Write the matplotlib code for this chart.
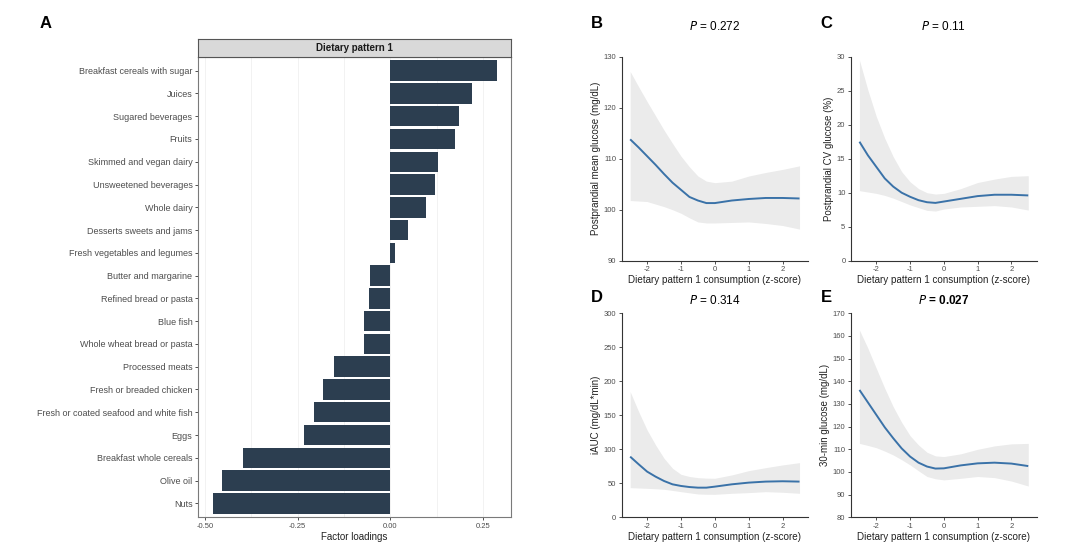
import matplotlib
matplotlib.use("Agg")
import matplotlib.pyplot as plt
import numpy as np

plt.rcParams['font.family'] = ['Liberation Sans', 'DejaVu Sans']
plt.rcParams['axes.unicode_minus'] = False

# ---------------- Data ----------------
foods = ["Breakfast cereals with sugar", "Juices", "Sugared beverages", "Fruits",
         "Skimmed and vegan dairy", "Unsweetened beverages", "Whole dairy",
         "Desserts sweets and jams", "Fresh vegetables and legumes",
         "Butter and margarine", "Refined bread or pasta", "Blue fish",
         "Whole wheat bread or pasta", "Processed meats", "Fresh or breaded chicken",
         "Fresh or coated seafood and white fish", "Eggs", "Breakfast whole cereals",
         "Olive oil", "Nuts"]
loadings = [0.288, 0.220, 0.185, 0.175, 0.127, 0.121, 0.095, 0.046, 0.011,
            -0.056, -0.059, -0.071, -0.072, -0.152, -0.182, -0.205, -0.234,
            -0.397, -0.454, -0.479]

z = [-2.5, -2.25, -2.0, -1.75, -1.5, -1.25, -1.0, -0.75, -0.5, -0.25,
     0.0, 0.5, 1.0, 1.5, 2.0, 2.5]

mean_fit = [113.8, 112.2, 110.5, 108.8, 107.0, 105.3, 103.9, 102.5, 101.8, 101.3,
            101.3, 101.8, 102.1, 102.3, 102.3, 102.2]
mean_lo  = [101.8, 101.7, 101.6, 101.1, 100.6, 100.0, 99.3, 98.4, 97.6, 97.4,
            97.4, 97.5, 97.6, 97.3, 96.9, 96.2]
mean_hi  = [127.1, 124.1, 121.2, 118.4, 115.6, 113.0, 110.5, 108.4, 106.6, 105.6,
            105.3, 105.6, 106.6, 107.3, 107.9, 108.6]

cv_fit = [17.5, 15.5, 13.8, 12.1, 10.9, 10.0, 9.4, 8.9, 8.6, 8.5,
          8.7, 9.1, 9.5, 9.7, 9.7, 9.6]
cv_lo  = [10.3, 10.1, 9.9, 9.6, 9.2, 8.7, 8.2, 7.8, 7.4, 7.3,
          7.6, 7.9, 8.0, 8.1, 7.9, 7.45]
cv_hi  = [29.5, 25.1, 21.2, 18.0, 15.3, 13.1, 11.6, 10.6, 10.0, 9.8,
          9.9, 10.6, 11.5, 12.0, 12.4, 12.5]

iauc_fit = [89.2, 78.0, 67.2, 59.8, 53.4, 48.5, 46.1, 44.5, 43.6, 43.6,
            45.1, 48.5, 51.0, 52.5, 53.0, 52.5]
iauc_lo  = [43.6, 43.1, 42.6, 42.0, 41.2, 39.5, 37.7, 36.0, 34.3, 33.9,
            33.8, 35.3, 36.3, 37.7, 36.8, 35.3]
iauc_hi  = [184.8, 155.4, 128.4, 106.4, 86.8, 72.1, 63.2, 60.0, 58.3, 57.6,
            57.4, 62.3, 68.6, 73.0, 77.0, 80.4]

g30_fit = [136.2, 130.7, 125.2, 119.7, 114.9, 110.4, 106.8, 104.1, 102.4, 101.5,
           101.6, 102.9, 103.8, 104.1, 103.7, 102.6]
g30_lo  = [112.6, 111.7, 110.7, 109.2, 107.5, 105.4, 103.1, 100.5, 98.0, 97.0,
           96.5, 97.2, 98.0, 97.5, 96.0, 93.8]
g30_hi  = [162.6, 154.6, 145.7, 136.9, 128.8, 121.9, 116.0, 111.9, 108.7, 107.1,
           106.8, 108.0, 110.0, 111.5, 112.4, 112.6]

W, H = 1080, 548
fig = plt.figure(figsize=(W / 100, H / 100), dpi=100)

def rect(l, t, r, b):
    return [l / W, (H - b) / H, (r - l) / W, (b - t) / H]

tick_col = '#4d4d4d'

# ---------------- Panel A ----------------
axA = fig.add_axes(rect(198, 57, 511, 517))
ypos = np.arange(1, len(foods) + 1)
axA.barh(ypos, loadings, height=0.9, color='#2c3e50', edgecolor='none', zorder=3)
axA.set_ylim(len(foods) + 0.6, 0.4)
axA.set_xlim(-0.519, 0.325)
axA.set_yticks(ypos)
axA.set_yticklabels(foods, fontsize=6.5, color=tick_col)
axA.set_xticks([-0.5, -0.25, 0, 0.25])
axA.set_xticklabels(['-0.50', '-0.25', '0.00', '0.25'], fontsize=5.5, color=tick_col)
for v in [-0.5, -0.375, -0.25, -0.125, 0, 0.125, 0.25]:
    axA.axvline(v, color='#f0f0f0', lw=0.6, zorder=1)
axA.tick_params(axis='both', length=2.5, width=0.6, color='#333333', pad=1.5)
for s in axA.spines.values():
    s.set_color('#7a7a7a')
    s.set_linewidth(0.8)
axA.set_xlabel('Factor loadings', fontsize=7, color='#222222', labelpad=2)

axS = fig.add_axes(rect(198, 39, 511, 57))
axS.set_facecolor('#d9d9d9')
axS.set_xticks([]); axS.set_yticks([])
for s in axS.spines.values():
    s.set_color('#555555')
    s.set_linewidth(0.8)
axS.text(0.5, 0.5, 'Dietary pattern 1', transform=axS.transAxes, ha='center',
         va='center', fontsize=7, fontweight='bold', color='#1a1a1a')

fig.text(46 / W, 1 - 23 / H, 'A', fontsize=12, fontweight='bold', ha='center', va='center')

# ---------------- Spline panels ----------------
def spline_panel(box, fit, lo, hi, ylim, yticks, ylabel, ptxt, bold, letter, letter_xy, title_y):
    ax = fig.add_axes(rect(*box))
    ax.fill_between(z, lo, hi, color='#ebebeb', lw=0, zorder=1)
    ax.plot(z, fit, color='#3a72a8', lw=1.4, zorder=2, solid_capstyle='butt',
            solid_joinstyle='round')
    ax.set_xlim(-2.75, 2.75)
    ax.set_ylim(*ylim)
    ax.set_xticks([-2, -1, 0, 1, 2])
    ax.set_yticks(yticks)
    ax.tick_params(axis='both', labelsize=5.5, labelcolor=tick_col, length=2.5,
                   width=0.6, color='#333333', pad=1.5)
    for s in ['top', 'right']:
        ax.spines[s].set_visible(False)
    for s in ['left', 'bottom']:
        ax.spines[s].set_color('#333333')
        ax.spines[s].set_linewidth(0.8)
    ax.set_xlabel('Dietary pattern 1 consumption (z-score)', fontsize=7.1,
                  color='#222222', labelpad=1.5)
    ax.set_ylabel(ylabel, fontsize=7, color='#222222', labelpad=2)
    cx = (box[0] + box[2]) / 2
    if bold:
        fig.text(cx / W, 1 - title_y / H, r'$\bf{\it{P}}$ = 0.027', fontsize=8.5,
                 fontweight='bold', ha='center', va='center')
    else:
        fig.text(cx / W, 1 - title_y / H, r'$\it{P}$ = ' + ptxt, fontsize=8.5,
                 ha='center', va='center')
    fig.text(letter_xy[0] / W, 1 - letter_xy[1] / H, letter, fontsize=12,
             fontweight='bold', ha='center', va='center')
    return ax

spline_panel((621.7, 56.7, 808, 260.7), mean_fit, mean_lo, mean_hi, (90, 130),
             [90, 100, 110, 120, 130], 'Postprandial mean glucose (mg/dL)', '0.272',
             False, 'B', (597, 23), 27)
spline_panel((851, 56.7, 1036.7, 260.7), cv_fit, cv_lo, cv_hi, (0, 30),
             [0, 5, 10, 15, 20, 25, 30], 'Postprandial CV glucose (%)', '0.11',
             False, 'C', (826, 23), 27)
spline_panel((621.7, 313.3, 808, 517.3), iauc_fit, iauc_lo, iauc_hi, (0, 300),
             [0, 50, 100, 150, 200, 250, 300], 'iAUC (mg/dL*min)', '0.314',
             False, 'D', (597, 297), 300)
spline_panel((851, 313.3, 1036.7, 517.3), g30_fit, g30_lo, g30_hi, (80, 170),
             list(range(80, 171, 10)), '30-min glucose (mg/dL)', '0.027',
             True, 'E', (826, 297), 300)

fig.savefig('out.png', dpi=100, facecolor='white')
